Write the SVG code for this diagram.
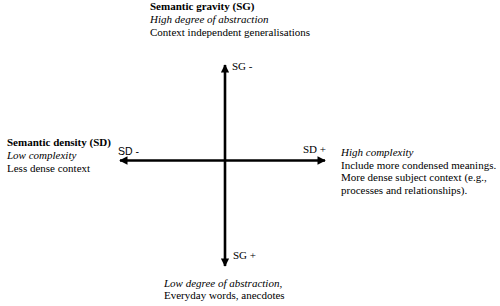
<svg xmlns="http://www.w3.org/2000/svg" width="500" height="306" viewBox="0 0 500 306">
<style>
text{font-family:"Liberation Serif","Times New Roman",serif;font-size:11px;fill:#000}
.b{font-weight:bold}
.i{font-style:italic}
.s{font-family:"Liberation Sans",Arial,sans-serif;font-size:10.5px}
.ax{stroke:#000;stroke-width:2.6;fill:none}
</style>
<defs>
<marker id="ah" viewBox="0 0 10 10" refX="9" refY="5" markerWidth="3.4" markerHeight="3.2" orient="auto" markerUnits="strokeWidth">
<path d="M0,0 L10,5 L0,10 Z" fill="#000"/>
</marker>
</defs>
<g id="connectors">
<line class="ax" x1="225" y1="161" x2="225" y2="65" marker-end="url(#ah)"/>
<line class="ax" x1="225" y1="161" x2="225" y2="266" marker-end="url(#ah)"/>
<line class="ax" x1="225" y1="160.5" x2="120" y2="160.5" marker-end="url(#ah)"/>
<line class="ax" x1="225" y1="160.5" x2="325" y2="160.5" marker-end="url(#ah)"/>
</g>
<g id="sg-top">
<text class="b" x="150" y="10">Semantic gravity (SG)</text>
<text class="i" x="150" y="23">High degree of abstraction</text>
<text x="150" y="36">Context independent generalisations</text>
</g>
<g id="sd-left">
<text class="b" x="7" y="146">Semantic density (SD)</text>
<text class="i" x="7" y="159">Low complexity</text>
<text x="7" y="172">Less dense context</text>
</g>
<g id="sd-right">
<text class="i" x="341" y="156">High complexity</text>
<text x="341" y="168.5">Include more condensed meanings.</text>
<text x="341" y="181">More dense subject context (e.g.,</text>
<text x="341" y="193.5">processes and relationships).</text>
</g>
<g id="sg-bottom">
<text class="i" x="164" y="287">Low degree of abstraction,</text>
<text x="164" y="299">Everyday words, anecdotes</text>
</g>
<g id="axis-labels">
<text x="232" y="70">SG -</text>
<text class="s" x="118" y="155">SD -</text>
<text x="303" y="153">SD +</text>
<text x="233" y="259">SG +</text>
</g>
</svg>
